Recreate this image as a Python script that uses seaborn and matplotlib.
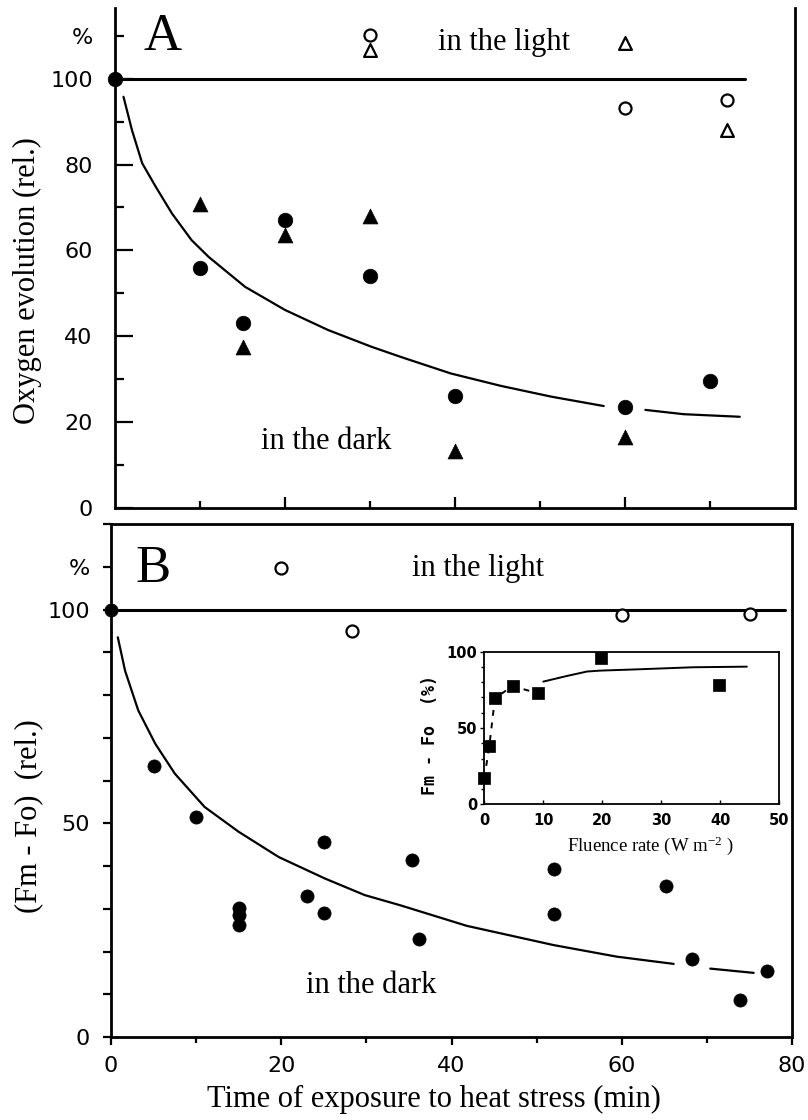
import matplotlib
matplotlib.use("Agg")
import matplotlib.pyplot as plt
import numpy as np
import pandas as pd
import seaborn as sns

# ---------------- data ----------------
# Panel A: oxygen evolution (rel.) vs time of heat stress (min)
a_dark_circle_t = [0, 10, 15, 20, 30, 40, 60, 70]
a_dark_circle_v = [100, 56, 43, 67, 54, 26, 23.5, 29.5]
a_dark_tri_t = [10, 15, 20, 30, 40, 60]
a_dark_tri_v = [70.7, 37.5, 63.6, 68, 13.3, 16.5]
a_light_circle_t = [30, 60, 72]
a_light_circle_v = [110.3, 93.3, 95]
a_light_tri_t = [30, 60, 72]
a_light_tri_v = [106.7, 108.3, 88]
a_fit_t = [1, 2, 3.2, 4.8, 6.7, 9, 11, 15.3, 20, 25.1, 30.2, 33.7, 39.5, 45.4, 51.3, 57.5,
           62.4, 66.9, 73.5]
a_fit_v = [95.8, 88, 80.3, 74.8, 68.6, 62.4, 58.5, 51.5, 46.1, 41.4, 37.5, 35.1, 31.3, 28.4, 25.9, 23.7,
           22.8, 21.8, 21.2]
a_fit_seg = [0] * 16 + [1] * 3
a_ref_t = [0, 74.1]
a_ref_v = [100, 100]

# Panel B: (Fm - Fo) (rel.) vs time of heat stress (min)
b_dark_t = [0, 5, 10, 15, 15, 15, 23, 25, 25, 35.4, 36.2, 52, 52, 65.2, 68.2, 73.9, 77.1]
b_dark_v = [100, 63.5, 51.5, 30.2, 28.5, 26.2, 33, 45.5, 29, 41.5, 22.9, 39.4, 28.7, 35.3, 18.2, 8.6, 15.4]
b_light_t = [20, 28.3, 60, 75.1]
b_light_v = [109.7, 94.9, 98.8, 99]
b_fit_t = [0.8, 1.65, 3.2, 5.2, 7.5, 11, 15, 19.7, 25.1, 29.8, 34, 41.8, 52, 59.4, 66.1,
           70.4, 75.5]
b_fit_v = [93.5, 85.7, 76.4, 68.6, 61.6, 53.8, 48, 42.1, 37.1, 33.2, 30.8, 26, 21.5, 18.8, 17.1,
           16, 15]
b_fit_seg = [0] * 15 + [1] * 2
b_ref_t = [0, 79.2]
b_ref_v = [100, 100]

# Inset: Fm-Fo (%) vs fluence rate (W m-2)
inset_rate = [0, 0.85, 1.8, 4.8, 9.1, 19.7, 39.8]
inset_val = [17, 38.2, 69.5, 77.5, 72.7, 95.7, 78.2]
inset_fit_rate = [10, 14, 17.4, 19.6, 26.4, 35.4, 44.5]
inset_fit_val = [80.4, 84.1, 87, 87.6, 88.5, 89.8, 90.2]

# ---------------- style ----------------
sns.set_theme(style="ticks")
plt.rcParams["font.family"] = ["DejaVu Sans"]
plt.rcParams.update({
    "axes.edgecolor": "black", "xtick.color": "black", "ytick.color": "black",
    "text.color": "black", "axes.labelcolor": "black", "axes.facecolor": "white",
    "figure.facecolor": "white", "axes.linewidth": 2.0,
})
SERIF = ["Liberation Serif", "DejaVu Serif"]

W, H = 808, 1120
fig = plt.figure(figsize=(W / 100, H / 100), dpi=100)
axA = fig.add_axes([115 / W, 1 - 507.7 / H, 680 / W, (507.7 - 8) / H])
axB = fig.add_axes([111 / W, 1 - 1037 / H, 681 / W, (1037 - 524) / H])
axI = fig.add_axes([484.3 / W, 1 - 804.3 / H, 295 / W, (804.3 - 651.7) / H])

# ---------------- panel A ----------------
sns.lineplot(x=a_ref_t, y=a_ref_v, ax=axA, color="black", lw=2.2, legend=False, zorder=1)
dfa = pd.DataFrame({"t": a_fit_t, "v": a_fit_v, "seg": a_fit_seg})
sns.lineplot(data=dfa, x="t", y="v", units="seg", estimator=None, ax=axA,
             color="black", lw=1.6, legend=False, zorder=1)
sns.scatterplot(x=a_dark_circle_t, y=a_dark_circle_v, ax=axA, marker="o", s=110,
                color="black", edgecolor="black", linewidth=0.5, clip_on=False, zorder=4)
sns.scatterplot(x=a_dark_tri_t, y=a_dark_tri_v, ax=axA, marker="^", s=115,
                color="black", edgecolor="black", linewidth=0.5, zorder=4)
sns.scatterplot(x=a_light_circle_t, y=a_light_circle_v, ax=axA, marker="o", s=75,
                color="white", edgecolor="black", linewidth=1.6, zorder=4)
sns.scatterplot(x=a_light_tri_t, y=a_light_tri_v, ax=axA, marker="^", s=85,
                color="white", edgecolor="black", linewidth=1.6, zorder=5)

axA.set_xlim(0, 80)
axA.set_ylim(0, 116.5)
axA.spines["top"].set_visible(False)
axA.set_xticks([20, 40, 60])
axA.set_xticks([10, 30, 50, 70], minor=True)
axA.tick_params(axis="x", which="both", direction="in", labelbottom=False, width=1.6)
axA.tick_params(axis="x", which="major", length=8)
axA.tick_params(axis="x", which="minor", length=5)
axA.set_yticks([0, 20, 40, 60, 80, 100])
axA.set_yticks([10, 30, 50, 70, 90, 110], labels=["", "", "", "", "", "%"], minor=True)
axA.tick_params(axis="y", which="both", direction="in", width=1.6, labelsize=16, pad=16)
axA.tick_params(axis="y", which="major", length=13)
axA.tick_params(axis="y", which="minor", length=6.5)
axA.set_xlabel("")
axA.set_ylabel("Oxygen evolution (rel.)", fontsize=22, family=SERIF)
axA.yaxis.set_label_coords(-0.107, 0.4537)

axA.text(3.3, 106.7, "A", fontsize=38, family=SERIF, ha="left", va="baseline")
axA.text(38.0, 106.7, "in the light", fontsize=22, family=SERIF, ha="left", va="baseline")
axA.text(17.2, 13.8, "in the dark", fontsize=22, family=SERIF, ha="left", va="baseline")

# ---------------- panel B ----------------
sns.lineplot(x=b_ref_t, y=b_ref_v, ax=axB, color="black", lw=2.2, legend=False, zorder=1)
dfb = pd.DataFrame({"t": b_fit_t, "v": b_fit_v, "seg": b_fit_seg})
sns.lineplot(data=dfb, x="t", y="v", units="seg", estimator=None, ax=axB,
             color="black", lw=1.6, legend=False, zorder=1)
sns.scatterplot(x=b_dark_t, y=b_dark_v, ax=axB, marker="o", s=90,
                color="black", edgecolor="black", linewidth=0.5, clip_on=False, zorder=4)
sns.scatterplot(x=b_light_t, y=b_light_v, ax=axB, marker="o", s=75,
                color="white", edgecolor="black", linewidth=1.6, zorder=4)

axB.set_xlim(0, 80)
axB.set_ylim(0, 120)
axB.set_xticks([0, 20, 40, 60, 80])
axB.set_xticks([10, 30, 50, 70], minor=True)
axB.tick_params(axis="x", which="both", direction="out", width=1.6, labelsize=16, pad=8)
axB.tick_params(axis="x", which="major", length=6)
axB.tick_params(axis="x", which="minor", length=4)
axB.set_yticks([0, 50, 100])
minor_b = [10, 20, 30, 40, 60, 70, 80, 90, 110, 120]
axB.set_yticks(minor_b, labels=["%" if v == 110 else "" for v in minor_b], minor=True)
axB.tick_params(axis="y", which="both", direction="out", width=1.6, length=6,
                labelsize=16, pad=9)
axB.set_xlabel("Time of exposure to heat stress (min)", fontsize=22, family=SERIF)
axB.xaxis.set_label_coords(0.474, -0.094)
axB.set_ylabel("(Fm - Fo)  (rel.)", fontsize=22, family=SERIF)
axB.yaxis.set_label_coords(-0.100, 0.431)

axB.text(2.9, 106.5, "B", fontsize=38, family=SERIF, ha="left", va="baseline")
axB.text(35.4, 107.9, "in the light", fontsize=22, family=SERIF, ha="left", va="baseline")
axB.text(22.9, 10.2, "in the dark", fontsize=22, family=SERIF, ha="left", va="baseline")

# ---------------- inset ----------------
sns.lineplot(x=inset_rate[:5], y=inset_val[:5], ax=axI, color="black", lw=1.4,
             linestyle=(0, (3, 3.5)), legend=False, zorder=1)
sns.lineplot(x=inset_fit_rate, y=inset_fit_val, ax=axI, color="black", lw=1.4,
             legend=False, zorder=1)
sns.scatterplot(x=inset_rate, y=inset_val, ax=axI, marker="s", s=85,
                color="black", edgecolor="black", linewidth=0.5, clip_on=False, zorder=4)
for sp in axI.spines.values():
    sp.set_linewidth(1.3)
axI.set_xlim(0, 50)
axI.set_ylim(0, 100)
axI.set_xticks([0, 10, 20, 30, 40, 50])
axI.set_yticks([0, 50, 100])
axI.set_yticks([10, 20, 30, 40, 60, 70, 80, 90], minor=True)
axI.tick_params(axis="both", which="both", width=1.0, labelsize=10.5)
axI.tick_params(axis="x", which="major", direction="in", length=3, pad=6)
axI.tick_params(axis="y", which="major", direction="out", length=3, pad=2)
axI.tick_params(axis="y", which="minor", direction="out", length=2)
for lab in axI.get_xticklabels() + axI.get_yticklabels():
    lab.set_fontweight("bold")
axI.set_xlabel(r"Fluence rate (W m$\mathregular{^{-2}}$ )", fontsize=13.5, family=SERIF)
axI.xaxis.set_label_coords(0.562, -0.20)
axI.set_ylabel("Fm - Fo  (%)", fontsize=12, family=["DejaVu Sans Mono"], fontweight="bold")
axI.yaxis.set_label_coords(-0.155, 0.454)

fig.savefig("out.png", dpi=100, facecolor="white")
